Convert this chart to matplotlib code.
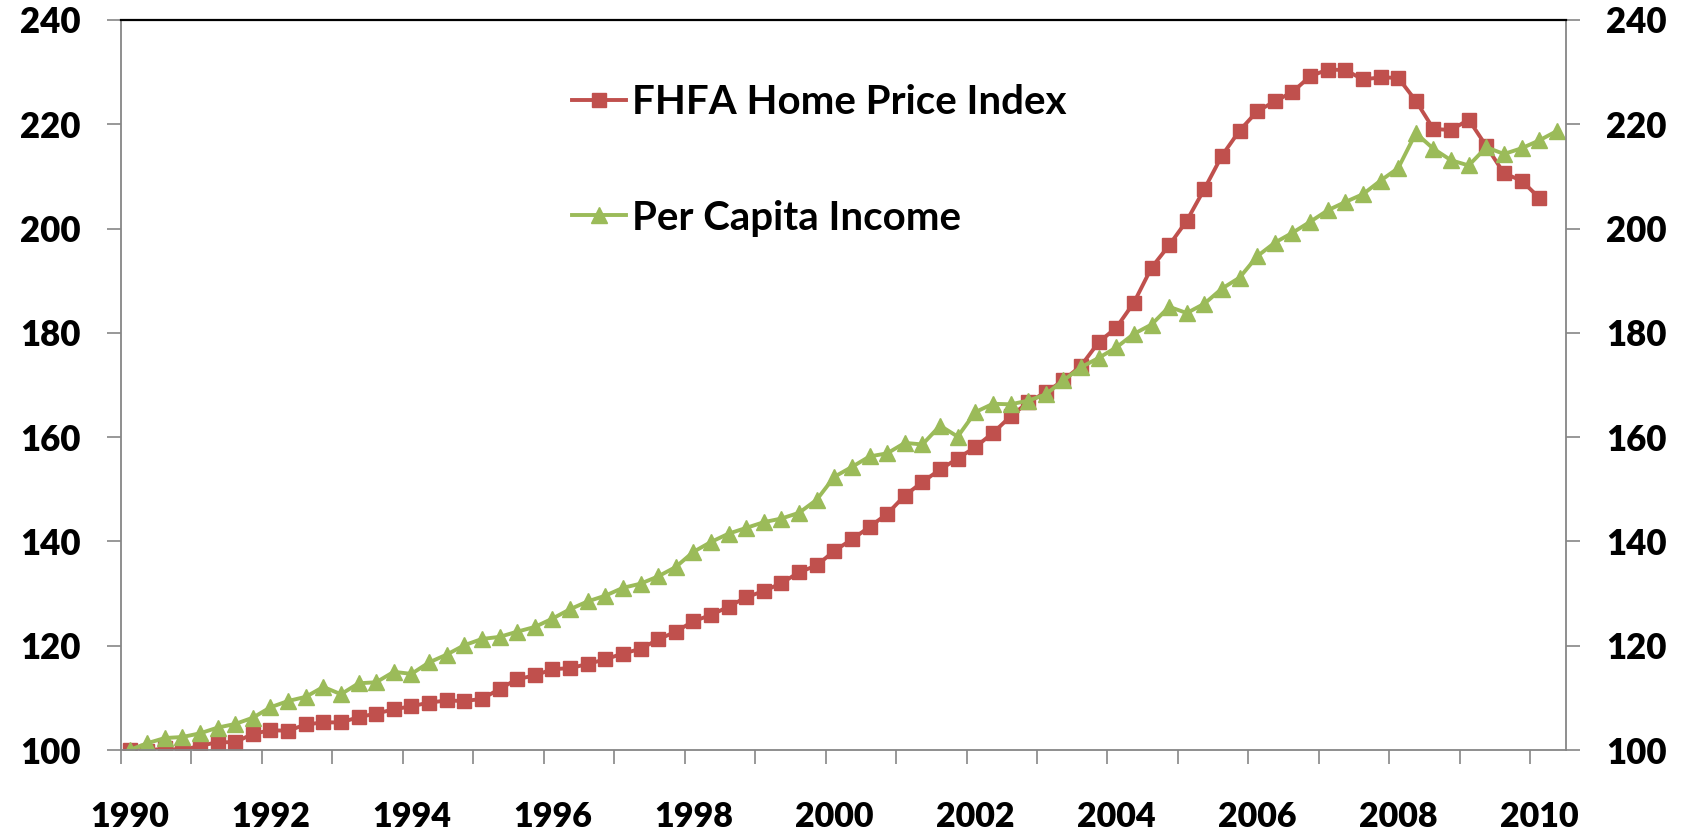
import numpy as np
import matplotlib.pyplot as plt

# quarterly index, 1990Q1 = 100
years = [str(y) for y in range(1990, 2011, 2)]

fhfa = [100.0, 99.9, 100.3, 100.0, 100.8, 101.5, 101.5, 103.1, 103.8, 103.7,
        104.9, 105.3, 105.3, 106.3, 107.0, 107.8, 108.4, 109.1, 109.5, 109.4,
        109.8, 111.7, 113.6, 114.3, 115.5, 115.7, 116.5, 117.4, 118.5, 119.4,
        121.2, 122.7, 124.7, 125.9, 127.5, 129.3, 130.5, 132.0, 134.1, 135.4,
        138.2, 140.4, 142.8, 145.3, 148.8, 151.4, 153.8, 155.9, 158.1, 160.8,
        164.0, 166.7, 168.6, 170.9, 173.7, 178.2, 181.0, 185.8, 192.5, 196.8,
        201.5, 207.6, 214.0, 218.8, 222.5, 224.4, 226.2, 229.2, 230.5, 230.4,
        228.6, 229.0, 228.9, 224.5, 219.1, 218.9, 220.9, 215.8, 210.6, 209.2,
        205.9]

income = [100.0, 101.3, 102.3, 102.5, 103.2, 104.3, 105.0, 106.2, 108.2, 109.4,
          110.2, 112.1, 110.7, 112.8, 113.0, 115.0, 114.6, 116.8, 118.3, 120.1,
          121.3, 121.7, 122.7, 123.6, 125.2, 127.0, 128.5, 129.6, 131.1, 131.9,
          133.3, 135.1, 138.0, 139.9, 141.5, 142.6, 143.7, 144.4, 145.5, 148.0,
          152.4, 154.3, 156.3, 156.9, 158.9, 158.6, 162.2, 160.1, 164.8, 166.4,
          166.3, 167.0, 168.2, 170.9, 173.4, 175.2, 177.2, 179.8, 181.6, 185.0,
          183.8, 185.6, 188.5, 190.6, 194.7, 197.3, 199.2, 201.3, 203.5, 205.1,
          206.6, 209.2, 211.6, 218.3, 215.3, 213.1, 212.1, 215.6, 214.3, 215.4,
          216.9, 218.7]

red = '#C0504D'
green = '#9BBB59'
grey = '#868686'
plt.rcParams['font.family'] = ['Lato', 'DejaVu Sans']
plt.rcParams['font.weight'] = 'bold'

fig = plt.figure(figsize=(16.88, 8.4), dpi=100)
ax = fig.add_axes([0.0715, 0.1071, 0.856, 0.8691])

ax.plot(np.arange(len(fhfa)), fhfa, color=red, lw=2.8, marker='s', ms=9.5,
        label='FHFA Home Price Index')
ax.plot(np.arange(len(income)), income, color=green, lw=2.8, marker='^', ms=11,
        label='Per Capita Income')

ax.set_xlim(-0.5, len(income) - 0.5)
ax.set_ylim(100, 240)
ax.set_yticks(range(100, 241, 20))

# year tick marks between categories, labels every two years
ax.set_xticks(np.arange(-0.5, len(income) - 1, 4), minor=True)
ax.set_xticks(np.arange(0, len(income), 8))
ax.set_xticklabels(years)
ax.tick_params(axis='x', which='major', length=0, pad=37, labelsize=24.5)
ax.tick_params(axis='x', which='minor', length=10, width=1.2, color=grey)
ax.tick_params(axis='y', length=10, width=1.2, color=grey, pad=19, labelsize=25,
               right=True, labelright=True)
for lab in ax.get_xticklabels() + ax.get_yticklabels():
    lab.set_fontweight('heavy')

for s in ['left', 'right', 'bottom']:
    ax.spines[s].set_color(grey)
    ax.spines[s].set_linewidth(1.3)
ax.spines['top'].set_color('black')
ax.spines['top'].set_linewidth(1.6)

ax.legend(loc='upper left', bbox_to_anchor=(572 / 1688, 1 - 84 / 840),
          bbox_transform=fig.transFigure, frameon=False,
          prop={'size': 29, 'weight': 'bold'},
          handlelength=1.35, handletextpad=0.15, labelspacing=1.95,
          borderpad=0, borderaxespad=0)

fig.savefig('out.png', dpi=100)
